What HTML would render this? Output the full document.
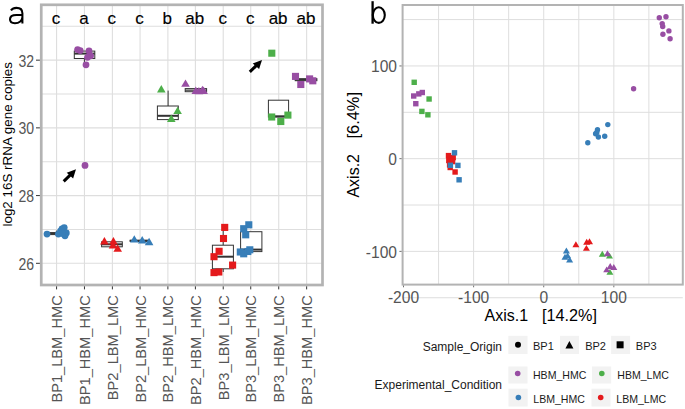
<!DOCTYPE html>
<html><head><meta charset="utf-8"><style>
html,body{margin:0;padding:0;background:#fff;width:685px;height:409px;overflow:hidden}
svg{display:block;font-family:"Liberation Sans",sans-serif}
</style></head><body>
<svg width="685" height="409" viewBox="0 0 685 409">
<line x1="41.25" x2="322.5" y1="263.30" y2="263.30" stroke="#dedede" stroke-width="1.1"/>
<line x1="41.25" x2="322.5" y1="229.44" y2="229.44" stroke="#dedede" stroke-width="1.1"/>
<line x1="41.25" x2="322.5" y1="195.59" y2="195.59" stroke="#dedede" stroke-width="1.1"/>
<line x1="41.25" x2="322.5" y1="161.73" y2="161.73" stroke="#dedede" stroke-width="1.1"/>
<line x1="41.25" x2="322.5" y1="127.87" y2="127.87" stroke="#dedede" stroke-width="1.1"/>
<line x1="41.25" x2="322.5" y1="94.02" y2="94.02" stroke="#dedede" stroke-width="1.1"/>
<line x1="41.25" x2="322.5" y1="60.16" y2="60.16" stroke="#dedede" stroke-width="1.1"/>
<line x1="41.25" x2="322.5" y1="26.30" y2="26.30" stroke="#dedede" stroke-width="1.1"/>
<line y1="4.8" y2="285.0" x1="56.58" x2="56.58" stroke="#dedede" stroke-width="1.1"/>
<line y1="4.8" y2="285.0" x1="84.46" x2="84.46" stroke="#dedede" stroke-width="1.1"/>
<line y1="4.8" y2="285.0" x1="112.38" x2="112.38" stroke="#dedede" stroke-width="1.1"/>
<line y1="4.8" y2="285.0" x1="140.06" x2="140.06" stroke="#dedede" stroke-width="1.1"/>
<line y1="4.8" y2="285.0" x1="167.88" x2="167.88" stroke="#dedede" stroke-width="1.1"/>
<line y1="4.8" y2="285.0" x1="195.40" x2="195.40" stroke="#dedede" stroke-width="1.1"/>
<line y1="4.8" y2="285.0" x1="223.23" x2="223.23" stroke="#dedede" stroke-width="1.1"/>
<line y1="4.8" y2="285.0" x1="250.74" x2="250.74" stroke="#dedede" stroke-width="1.1"/>
<line y1="4.8" y2="285.0" x1="278.73" x2="278.73" stroke="#dedede" stroke-width="1.1"/>
<line y1="4.8" y2="285.0" x1="306.65" x2="306.65" stroke="#dedede" stroke-width="1.1"/>
<line x1="56.4" x2="56.4" y1="230.6" y2="232.6" stroke="#333" stroke-width="1"/>
<rect x="46.3" y="232.6" width="20.5" height="2.0" fill="#fff" stroke="#333" stroke-width="1"/>
<line x1="46.3" x2="66.8" y1="233.6" y2="233.6" stroke="#333" stroke-width="2"/>
<circle cx="47" cy="234.1" r="3.4" fill="#377EB8"/>
<circle cx="58.4" cy="234.1" r="3.4" fill="#377EB8"/>
<circle cx="60.5" cy="231.1" r="3.4" fill="#377EB8"/>
<circle cx="62" cy="229" r="3.4" fill="#377EB8"/>
<circle cx="64.2" cy="227.6" r="3.4" fill="#377EB8"/>
<circle cx="66.3" cy="233" r="3.4" fill="#377EB8"/>
<circle cx="65" cy="235.8" r="3.4" fill="#377EB8"/>
<circle cx="62.5" cy="233.5" r="3.4" fill="#377EB8"/>
<line x1="84.4" x2="84.4" y1="58.5" y2="63" stroke="#333" stroke-width="1"/>
<rect x="74.3" y="51.1" width="20.5" height="7.399999999999999" fill="#fff" stroke="#333" stroke-width="1"/>
<line x1="74.3" x2="94.8" y1="53.6" y2="53.6" stroke="#333" stroke-width="2"/>
<circle cx="77.6" cy="49.6" r="3.4" fill="#984EA3"/>
<circle cx="80.2" cy="50.6" r="3.4" fill="#984EA3"/>
<circle cx="89" cy="50.9" r="3.4" fill="#984EA3"/>
<circle cx="90.6" cy="55.8" r="3.4" fill="#984EA3"/>
<circle cx="87.5" cy="57.3" r="3.4" fill="#984EA3"/>
<circle cx="86" cy="64.8" r="3.4" fill="#984EA3"/>
<circle cx="85" cy="165.4" r="3.4" fill="#984EA3"/>
<rect x="101.6" y="241.8" width="20.700000000000003" height="5.0" fill="#fff" stroke="#333" stroke-width="1"/>
<line x1="101.6" x2="122.3" y1="244.3" y2="244.3" stroke="#333" stroke-width="2"/>
<polygon points="104.40,237.10 100.10,244.50 108.70,244.50" fill="#E41A1C"/>
<polygon points="113.40,237.10 109.10,244.50 117.70,244.50" fill="#E41A1C"/>
<polygon points="113.00,241.00 108.70,248.40 117.30,248.40" fill="#E41A1C"/>
<polygon points="117.70,244.40 113.40,251.80 122.00,251.80" fill="#E41A1C"/>
<rect x="130.0" y="240.3" width="19.599999999999994" height="1.0" fill="#fff" stroke="#333" stroke-width="1"/>
<line x1="130.0" x2="149.6" y1="240.8" y2="240.8" stroke="#333" stroke-width="2"/>
<polygon points="134.30,235.20 130.00,242.60 138.60,242.60" fill="#377EB8"/>
<polygon points="142.20,236.00 137.90,243.40 146.50,243.40" fill="#377EB8"/>
<polygon points="149.10,237.80 144.80,245.20 153.40,245.20" fill="#377EB8"/>
<line x1="168.1" x2="168.1" y1="90.6" y2="106.0" stroke="#333" stroke-width="1"/>
<rect x="157.4" y="106.0" width="20.900000000000006" height="13.599999999999994" fill="#fff" stroke="#333" stroke-width="1"/>
<line x1="157.4" x2="178.3" y1="115.8" y2="115.8" stroke="#333" stroke-width="2"/>
<polygon points="161.30,85.10 157.00,92.50 165.60,92.50" fill="#4DAF4A"/>
<polygon points="177.60,106.70 173.30,114.10 181.90,114.10" fill="#4DAF4A"/>
<polygon points="171.30,114.50 167.00,121.90 175.60,121.90" fill="#4DAF4A"/>
<rect x="185.2" y="88.6" width="21.400000000000006" height="3.1000000000000085" fill="#fff" stroke="#333" stroke-width="1"/>
<line x1="185.2" x2="206.6" y1="90.15" y2="90.15" stroke="#333" stroke-width="1.2"/>
<polygon points="185.50,79.40 181.20,86.80 189.80,86.80" fill="#984EA3"/>
<polygon points="195.80,86.60 191.50,94.00 200.10,94.00" fill="#984EA3"/>
<polygon points="198.90,86.90 194.60,94.30 203.20,94.30" fill="#984EA3"/>
<polygon points="202.40,85.80 198.10,93.20 206.70,93.20" fill="#984EA3"/>
<polygon points="203.60,86.60 199.30,94.00 207.90,94.00" fill="#984EA3"/>
<line x1="223.2" x2="223.2" y1="224.5" y2="245.2" stroke="#333" stroke-width="1"/>
<line x1="223.2" x2="223.2" y1="268.8" y2="272" stroke="#333" stroke-width="1"/>
<rect x="212.4" y="245.2" width="21.0" height="23.600000000000023" fill="#fff" stroke="#333" stroke-width="1"/>
<line x1="212.4" x2="233.4" y1="256.7" y2="256.7" stroke="#333" stroke-width="2"/>
<rect x="221.15" y="223.85" width="7.1" height="7.1" fill="#E41A1C"/>
<rect x="219.95" y="234.95" width="7.1" height="7.1" fill="#E41A1C"/>
<rect x="215.55" y="247.75" width="7.1" height="7.1" fill="#E41A1C"/>
<rect x="210.45" y="253.15" width="7.1" height="7.1" fill="#E41A1C"/>
<rect x="229.05" y="261.55" width="7.1" height="7.1" fill="#E41A1C"/>
<rect x="210.45" y="269.05" width="7.1" height="7.1" fill="#E41A1C"/>
<rect x="215.25" y="268.45" width="7.1" height="7.1" fill="#E41A1C"/>
<rect x="240.6" y="231.7" width="21.299999999999983" height="19.900000000000006" fill="#fff" stroke="#333" stroke-width="1"/>
<line x1="240.6" x2="261.9" y1="249.6" y2="249.6" stroke="#333" stroke-width="2"/>
<rect x="245.25" y="221.25" width="7.1" height="7.1" fill="#377EB8"/>
<rect x="240.15" y="225.15" width="7.1" height="7.1" fill="#377EB8"/>
<rect x="242.15" y="231.25" width="7.1" height="7.1" fill="#377EB8"/>
<rect x="236.75" y="248.45" width="7.1" height="7.1" fill="#377EB8"/>
<rect x="240.15" y="250.25" width="7.1" height="7.1" fill="#377EB8"/>
<rect x="244.25" y="247.95" width="7.1" height="7.1" fill="#377EB8"/>
<rect x="246.25" y="246.25" width="7.1" height="7.1" fill="#377EB8"/>
<rect x="268.4" y="100.2" width="20.200000000000045" height="16.799999999999997" fill="#fff" stroke="#333" stroke-width="1"/>
<line x1="268.4" x2="288.6" y1="116.3" y2="116.3" stroke="#333" stroke-width="2"/>
<rect x="268.15" y="113.45" width="7.1" height="7.1" fill="#4DAF4A"/>
<rect x="284.35" y="111.55" width="7.1" height="7.1" fill="#4DAF4A"/>
<rect x="277.25" y="117.95" width="7.1" height="7.1" fill="#4DAF4A"/>
<rect x="268.25" y="49.65" width="7.1" height="7.1" fill="#4DAF4A"/>
<rect x="295.2" y="78.7" width="21.69999999999999" height="2.0" fill="#fff" stroke="#333" stroke-width="1"/>
<line x1="295.2" x2="316.9" y1="79.7" y2="79.7" stroke="#333" stroke-width="2"/>
<rect x="291.95" y="72.85" width="7.1" height="7.1" fill="#984EA3"/>
<rect x="297.25" y="80.95" width="7.1" height="7.1" fill="#984EA3"/>
<rect x="306.05" y="75.35" width="7.1" height="7.1" fill="#984EA3"/>
<rect x="309.25" y="77.25" width="7.1" height="7.1" fill="#984EA3"/>
<line x1="63.7" y1="181.4" x2="72.95" y2="172.43" stroke="#000" stroke-width="3"/>
<polygon points="76,169.3 66.7,172.7 73.1,178.4" fill="#000"/>
<line x1="249.8" y1="71.8" x2="258.95" y2="63.15" stroke="#000" stroke-width="3"/>
<polygon points="262,60.1 252.7,63.5 259.1,68.9" fill="#000"/>
<rect x="41.25" y="4.8" width="281.25" height="280.2" fill="none" stroke="#b3b3b3" stroke-width="2.7"/>
<line x1="36" x2="39.9" y1="263.30" y2="263.30" stroke="#333" stroke-width="1"/>
<text transform="translate(34,269.70) scale(0.9,1)" text-anchor="end" font-size="15.6" fill="#555">26</text>
<line x1="36" x2="39.9" y1="195.59" y2="195.59" stroke="#333" stroke-width="1"/>
<text transform="translate(34,201.99) scale(0.9,1)" text-anchor="end" font-size="15.6" fill="#555">28</text>
<line x1="36" x2="39.9" y1="127.87" y2="127.87" stroke="#333" stroke-width="1"/>
<text transform="translate(34,134.27) scale(0.9,1)" text-anchor="end" font-size="15.6" fill="#555">30</text>
<line x1="36" x2="39.9" y1="60.16" y2="60.16" stroke="#333" stroke-width="1"/>
<text transform="translate(34,66.56) scale(0.9,1)" text-anchor="end" font-size="15.6" fill="#555">32</text>
<line x1="56.58" x2="56.58" y1="286.35" y2="289.4" stroke="#333" stroke-width="1"/>
<line x1="84.46" x2="84.46" y1="286.35" y2="289.4" stroke="#333" stroke-width="1"/>
<line x1="112.38" x2="112.38" y1="286.35" y2="289.4" stroke="#333" stroke-width="1"/>
<line x1="140.06" x2="140.06" y1="286.35" y2="289.4" stroke="#333" stroke-width="1"/>
<line x1="167.88" x2="167.88" y1="286.35" y2="289.4" stroke="#333" stroke-width="1"/>
<line x1="195.40" x2="195.40" y1="286.35" y2="289.4" stroke="#333" stroke-width="1"/>
<line x1="223.23" x2="223.23" y1="286.35" y2="289.4" stroke="#333" stroke-width="1"/>
<line x1="250.74" x2="250.74" y1="286.35" y2="289.4" stroke="#333" stroke-width="1"/>
<line x1="278.73" x2="278.73" y1="286.35" y2="289.4" stroke="#333" stroke-width="1"/>
<line x1="306.65" x2="306.65" y1="286.35" y2="289.4" stroke="#333" stroke-width="1"/>
<text transform="translate(62.18,295.2) rotate(-90)" text-anchor="end" font-size="14.65" fill="#555">BP1_LBM_HMC</text>
<text transform="translate(90.06,295.2) rotate(-90)" text-anchor="end" font-size="14.65" fill="#555">BP1_HBM_HMC</text>
<text transform="translate(117.98,295.2) rotate(-90)" text-anchor="end" font-size="14.65" fill="#555">BP2_LBM_LMC</text>
<text transform="translate(145.66,295.2) rotate(-90)" text-anchor="end" font-size="14.65" fill="#555">BP2_LBM_HMC</text>
<text transform="translate(173.48,295.2) rotate(-90)" text-anchor="end" font-size="14.65" fill="#555">BP2_HBM_LMC</text>
<text transform="translate(201.00,295.2) rotate(-90)" text-anchor="end" font-size="14.65" fill="#555">BP2_HBM_HMC</text>
<text transform="translate(228.83,295.2) rotate(-90)" text-anchor="end" font-size="14.65" fill="#555">BP3_LBM_LMC</text>
<text transform="translate(256.34,295.2) rotate(-90)" text-anchor="end" font-size="14.65" fill="#555">BP3_LBM_HMC</text>
<text transform="translate(284.33,295.2) rotate(-90)" text-anchor="end" font-size="14.65" fill="#555">BP3_HBM_LMC</text>
<text transform="translate(312.25,295.2) rotate(-90)" text-anchor="end" font-size="14.65" fill="#555">BP3_HBM_HMC</text>
<text x="55.98" y="24.0" text-anchor="middle" font-size="17" fill="#000" stroke="#000" stroke-width="0.15">c</text>
<text x="83.86" y="24.0" text-anchor="middle" font-size="17" fill="#000" stroke="#000" stroke-width="0.15">a</text>
<text x="111.78" y="24.0" text-anchor="middle" font-size="17" fill="#000" stroke="#000" stroke-width="0.15">c</text>
<text x="139.46" y="24.0" text-anchor="middle" font-size="17" fill="#000" stroke="#000" stroke-width="0.15">c</text>
<text x="167.28" y="24.0" text-anchor="middle" font-size="17" fill="#000" stroke="#000" stroke-width="0.15">b</text>
<text x="194.80" y="24.0" text-anchor="middle" font-size="17" fill="#000" stroke="#000" stroke-width="0.15">ab</text>
<text x="222.63" y="24.0" text-anchor="middle" font-size="17" fill="#000" stroke="#000" stroke-width="0.15">c</text>
<text x="250.14" y="24.0" text-anchor="middle" font-size="17" fill="#000" stroke="#000" stroke-width="0.15">c</text>
<text x="278.13" y="24.0" text-anchor="middle" font-size="17" fill="#000" stroke="#000" stroke-width="0.15">ab</text>
<text x="306.05" y="24.0" text-anchor="middle" font-size="17" fill="#000" stroke="#000" stroke-width="0.15">ab</text>
<text transform="translate(12.4,226.5) rotate(-90)" font-size="13.4" fill="#000">log2 16S rRNA gene copies</text>
<path d="M10.9 10.4 C12.3 8.6 14.3 7.9 16.4 7.9 C20.4 7.9 22.4 9.9 22.4 13.3 L22.4 23.6 M22.4 14.9 L16.4 14.9 C12 14.9 10.0 16.8 10.0 19.3 C10.0 21.8 11.9 23.2 14.9 23.2 C19.2 23.2 22.4 20.6 22.4 17.0" fill="none" stroke="#000" stroke-width="2.05"/>
<line x1="402.6" x2="682.8" y1="297.74" y2="297.74" stroke="#dedede" stroke-width="1"/>
<line x1="402.6" x2="682.8" y1="251.38" y2="251.38" stroke="#dedede" stroke-width="1"/>
<line x1="402.6" x2="682.8" y1="205.02" y2="205.02" stroke="#dedede" stroke-width="1"/>
<line x1="402.6" x2="682.8" y1="158.66" y2="158.66" stroke="#dedede" stroke-width="1"/>
<line x1="402.6" x2="682.8" y1="112.30" y2="112.30" stroke="#dedede" stroke-width="1"/>
<line x1="402.6" x2="682.8" y1="65.94" y2="65.94" stroke="#dedede" stroke-width="1"/>
<line x1="402.6" x2="682.8" y1="19.58" y2="19.58" stroke="#dedede" stroke-width="1"/>
<line y1="5.0" y2="284.6" x1="438.57" x2="438.57" stroke="#dedede" stroke-width="1"/>
<line y1="5.0" y2="284.6" x1="473.62" x2="473.62" stroke="#dedede" stroke-width="1"/>
<line y1="5.0" y2="284.6" x1="508.68" x2="508.68" stroke="#dedede" stroke-width="1"/>
<line y1="5.0" y2="284.6" x1="543.73" x2="543.73" stroke="#dedede" stroke-width="1"/>
<line y1="5.0" y2="284.6" x1="578.78" x2="578.78" stroke="#dedede" stroke-width="1"/>
<line y1="5.0" y2="284.6" x1="613.84" x2="613.84" stroke="#dedede" stroke-width="1"/>
<line y1="5.0" y2="284.6" x1="648.89" x2="648.89" stroke="#dedede" stroke-width="1"/>
<rect x="411.50" y="79.60" width="5.4" height="5.4" fill="#4DAF4A"/>
<rect x="426.40" y="96.30" width="5.4" height="5.4" fill="#4DAF4A"/>
<rect x="419.20" y="108.70" width="5.4" height="5.4" fill="#4DAF4A"/>
<rect x="425.20" y="112.10" width="5.4" height="5.4" fill="#4DAF4A"/>
<rect x="411.00" y="93.30" width="5.4" height="5.4" fill="#984EA3"/>
<rect x="416.10" y="91.20" width="5.4" height="5.4" fill="#984EA3"/>
<rect x="419.60" y="89.80" width="5.4" height="5.4" fill="#984EA3"/>
<rect x="413.10" y="101.00" width="5.4" height="5.4" fill="#984EA3"/>
<rect x="445.80" y="152.90" width="5.4" height="5.4" fill="#E41A1C"/>
<rect x="450.50" y="154.90" width="5.4" height="5.4" fill="#E41A1C"/>
<rect x="446.10" y="157.80" width="5.4" height="5.4" fill="#E41A1C"/>
<rect x="449.90" y="158.90" width="5.4" height="5.4" fill="#E41A1C"/>
<rect x="446.90" y="162.10" width="5.4" height="5.4" fill="#E41A1C"/>
<rect x="447.50" y="164.80" width="5.4" height="5.4" fill="#E41A1C"/>
<rect x="452.40" y="169.30" width="5.4" height="5.4" fill="#E41A1C"/>
<rect x="451.80" y="150.10" width="5.4" height="5.4" fill="#377EB8"/>
<rect x="447.70" y="162.60" width="5.4" height="5.4" fill="#377EB8"/>
<rect x="455.20" y="162.70" width="5.4" height="5.4" fill="#377EB8"/>
<rect x="456.40" y="177.10" width="5.4" height="5.4" fill="#377EB8"/>
<circle cx="587.8" cy="142.8" r="2.7" fill="#377EB8"/>
<circle cx="595.6" cy="133.7" r="2.7" fill="#377EB8"/>
<circle cx="597.5" cy="129.8" r="2.7" fill="#377EB8"/>
<circle cx="596.8" cy="132.5" r="2.7" fill="#377EB8"/>
<circle cx="598.4" cy="137" r="2.7" fill="#377EB8"/>
<circle cx="604.7" cy="136.2" r="2.7" fill="#377EB8"/>
<circle cx="607.8" cy="124.6" r="2.7" fill="#377EB8"/>
<circle cx="659.3" cy="17.7" r="2.7" fill="#984EA3"/>
<circle cx="666" cy="16.7" r="2.7" fill="#984EA3"/>
<circle cx="662.2" cy="23.6" r="2.7" fill="#984EA3"/>
<circle cx="662.7" cy="26.5" r="2.7" fill="#984EA3"/>
<circle cx="668.9" cy="30.9" r="2.7" fill="#984EA3"/>
<circle cx="662.9" cy="34.2" r="2.7" fill="#984EA3"/>
<circle cx="670.1" cy="38.8" r="2.7" fill="#984EA3"/>
<circle cx="633.6" cy="88.7" r="2.7" fill="#984EA3"/>
<polygon points="575.90,241.30 572.40,247.20 579.40,247.20" fill="#E41A1C"/>
<polygon points="586.70,238.80 583.20,244.70 590.20,244.70" fill="#E41A1C"/>
<polygon points="589.50,238.30 586.00,244.20 593.00,244.20" fill="#E41A1C"/>
<polygon points="586.40,244.90 582.90,250.80 589.90,250.80" fill="#E41A1C"/>
<polygon points="566.40,247.60 562.90,253.50 569.90,253.50" fill="#377EB8"/>
<polygon points="565.00,253.80 561.50,259.70 568.50,259.70" fill="#377EB8"/>
<polygon points="567.60,252.40 564.10,258.30 571.10,258.30" fill="#377EB8"/>
<polygon points="569.60,256.60 566.10,262.50 573.10,262.50" fill="#377EB8"/>
<polygon points="602.30,250.80 598.80,256.70 605.80,256.70" fill="#4DAF4A"/>
<polygon points="609.50,252.70 606.00,258.60 613.00,258.60" fill="#4DAF4A"/>
<polygon points="609.90,268.90 606.40,274.80 613.40,274.80" fill="#4DAF4A"/>
<polygon points="607.50,250.30 604.00,256.20 611.00,256.20" fill="#984EA3"/>
<polygon points="610.20,263.00 606.70,268.90 613.70,268.90" fill="#984EA3"/>
<polygon points="613.80,264.00 610.30,269.90 617.30,269.90" fill="#984EA3"/>
<polygon points="606.70,266.40 603.20,272.30 610.20,272.30" fill="#984EA3"/>
<rect x="402.6" y="5.0" width="280.19999999999993" height="279.6" fill="none" stroke="#b3b3b3" stroke-width="2"/>
<line x1="399.4" x2="401.6" y1="251.38" y2="251.38" stroke="#4d4d4d" stroke-width="0.8"/>
<text transform="translate(397,257.78)" text-anchor="end" font-size="15.6" fill="#555">-100</text>
<line x1="399.4" x2="401.6" y1="158.66" y2="158.66" stroke="#4d4d4d" stroke-width="0.8"/>
<text transform="translate(397,165.06)" text-anchor="end" font-size="15.6" fill="#555">0</text>
<line x1="399.4" x2="401.6" y1="65.94" y2="65.94" stroke="#4d4d4d" stroke-width="0.8"/>
<text transform="translate(397,72.34)" text-anchor="end" font-size="15.6" fill="#555">100</text>
<line y1="285.6" y2="287.3" x1="403.51" x2="403.51" stroke="#4d4d4d" stroke-width="0.8"/>
<text transform="translate(403.51,303.2)" text-anchor="middle" font-size="15.6" fill="#555">-200</text>
<line y1="285.6" y2="287.3" x1="473.62" x2="473.62" stroke="#4d4d4d" stroke-width="0.8"/>
<text transform="translate(473.62,303.2)" text-anchor="middle" font-size="15.6" fill="#555">-100</text>
<line y1="285.6" y2="287.3" x1="543.73" x2="543.73" stroke="#4d4d4d" stroke-width="0.8"/>
<text transform="translate(543.73,303.2)" text-anchor="middle" font-size="15.6" fill="#555">0</text>
<line y1="285.6" y2="287.3" x1="613.84" x2="613.84" stroke="#4d4d4d" stroke-width="0.8"/>
<text transform="translate(613.84,303.2)" text-anchor="middle" font-size="15.6" fill="#555">100</text>
<text x="484.5" y="320.5" font-size="16" fill="#000">Axis.1</text>
<text x="542.0" y="320.5" font-size="16" fill="#000" textLength="55" lengthAdjust="spacingAndGlyphs">[14.2%]</text>
<text transform="translate(359.1,197.6) rotate(-90)" font-size="16" fill="#000">Axis.2</text>
<text transform="translate(359.1,138.5) rotate(-90)" font-size="16" fill="#000" textLength="46.5" lengthAdjust="spacingAndGlyphs">[6.4%]</text>
<path d="M372.6 1.2 L372.6 23.7" stroke="#000" stroke-width="2.3"/><ellipse cx="378.8" cy="15.1" rx="6" ry="7.8" fill="none" stroke="#000" stroke-width="2.1"/>
<text x="502" y="350.9" text-anchor="end" font-size="12" fill="#1a1a1a">Sample_Origin</text>
<rect x="508.3" y="335.8" width="19.2" height="18.2" fill="#f2f2f2"/>
<circle cx="518" cy="344.8" r="3" fill="#000"/>
<text x="533" y="350.4" font-size="11" fill="#1a1a1a">BP1</text>
<rect x="560" y="335.8" width="19" height="18.2" fill="#f2f2f2"/>
<polygon points="569.4,341 565.4,348.4 573.4,348.4" fill="#000"/>
<text x="585.2" y="350.4" font-size="11" fill="#1a1a1a">BP2</text>
<rect x="611.1" y="335.8" width="19" height="18.2" fill="#f2f2f2"/>
<rect x="616.6" y="341.3" width="7" height="7" fill="#000"/>
<text x="635.8" y="350.4" font-size="11" fill="#1a1a1a">BP3</text>
<text x="502" y="389.3" text-anchor="end" font-size="12" fill="#1a1a1a">Experimental_Condition</text>
<rect x="508.3" y="366.5" width="19.2" height="17" fill="#f2f2f2"/>
<circle cx="517.7" cy="373.5" r="2.8" fill="#984EA3"/>
<text transform="translate(533,379) scale(0.96,1)" font-size="11" fill="#1a1a1a">HBM_HMC</text>
<rect x="592" y="366.5" width="19.2" height="17" fill="#f2f2f2"/>
<circle cx="601.8" cy="373.5" r="2.8" fill="#4DAF4A"/>
<text transform="translate(617.3,379) scale(0.96,1)" font-size="11" fill="#1a1a1a">HBM_LMC</text>
<rect x="508.5" y="388.7" width="19.2" height="17.8" fill="#f2f2f2"/>
<circle cx="518.4" cy="397.5" r="2.8" fill="#377EB8"/>
<text transform="translate(533.3,403) scale(0.96,1)" font-size="11" fill="#1a1a1a">LBM_HMC</text>
<rect x="591.5" y="388.7" width="19" height="17.8" fill="#f2f2f2"/>
<circle cx="600.7" cy="397.5" r="2.8" fill="#E41A1C"/>
<text transform="translate(616.3,403) scale(0.96,1)" font-size="11" fill="#1a1a1a">LBM_LMC</text>
</svg>
</body></html>
